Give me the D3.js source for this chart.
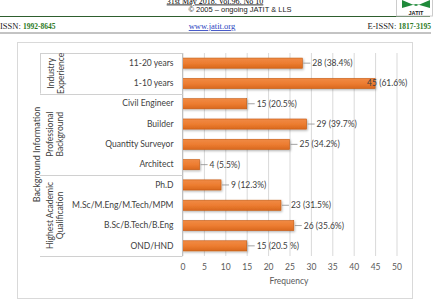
<!DOCTYPE html>
<html>
<head>
<meta charset="utf-8">
<script src="https://cdn.jsdelivr.net/npm/d3@7"></script>
<style>
  body { margin: 0; background: #fff; }
  svg { display: block; }
</style>
</head>
<body>
<script>
// categories, top to bottom
var categories = ['11-20 years', '1-10 years', 'Civil Engineer', 'Builder', 'Quantity Surveyor',
  'Architect', 'Ph.D', 'M.Sc/M.Eng/M.Tech/MPM', 'B.Sc/B.Tech/B.Eng', 'OND/HND'];
var counts = [28, 45, 15, 29, 25, 4, 9, 23, 26, 15];
var valueLabels = ['28 (38.4%)', '45 (61.6%)', '15 (20.5%)', '29 (39.7%)', '25 (34.2%)',
  '4 (5.5%)', '9 (12.3%)', '23 (31.5%)', '26 (35.6%)', '15 (20.5 %)'];
// outer category groups (two text lines each) and how many rows they span
var groupLines = [['Industry', 'Experience'], ['Professional', 'Background'], ['Highest Academic', 'Qualification']];
var groupSizes = [2, 4, 4];
var xTicks = [0, 5, 10, 15, 20, 25, 30, 35, 40, 45, 50];

var W = 441, H = 304;
var svg = d3.select('body').append('svg').attr('width', W).attr('height', H);

// ---- journal page header ----
var serif = '"Liberation Serif", "DejaVu Serif", serif';
svg.append('text').attr('x', 215).attr('y', 3.5).attr('text-anchor', 'middle')
    .style('font', '8px ' + serif).attr('text-decoration', 'underline')
    .text('31st May 2018. Vol.96. No 10');
svg.append('text').attr('x', 240).attr('y', 12).attr('text-anchor', 'middle')
    .style('font', '7.5px "Liberation Sans", Arial, sans-serif').attr('fill', '#222')
    .text('\u00A9 2005 \u2013 ongoing  JATIT & LLS');
svg.append('line').attr('x1', 0).attr('x2', 430).attr('y1', 16.5).attr('y2', 16.5)
    .attr('stroke', '#2e5e2e').attr('stroke-width', 1.2);
svg.append('line').attr('x1', 0).attr('x2', 431).attr('y1', 33).attr('y2', 33)
    .attr('stroke', '#888').attr('stroke-width', 1);

var issn = svg.append('text').attr('x', 0).attr('y', 29).style('font', '8.5px ' + serif).attr('fill', '#222');
issn.append('tspan').text('ISSN: ');
issn.append('tspan').attr('fill', '#2c7a1f').attr('font-weight', 'bold').style('font-size', '7.5px').text('1992-8645');
svg.append('text').attr('x', 212).attr('y', 29).attr('text-anchor', 'middle')
    .style('font', '8.5px ' + serif).attr('fill', '#2a3fc0').attr('text-decoration', 'underline')
    .text('www.jatit.org');
var eissn = svg.append('text').attr('x', 431).attr('y', 29).attr('text-anchor', 'end')
    .style('font', '8.5px ' + serif).attr('fill', '#222');
eissn.append('tspan').text('E-ISSN: ');
eissn.append('tspan').attr('fill', '#2c7a1f').attr('font-weight', 'bold').style('font-size', '7.5px').text('1817-3195');

// logo
var logo = svg.append('g');
logo.append('rect').attr('x', 396.5).attr('y', -1).attr('width', 36).attr('height', 17)
    .attr('fill', 'none').attr('stroke', '#ccc');
logo.append('path').attr('d', 'M402,0 L416,6 L430,0 L430,8 L416,4 L402,8 Z').attr('fill', '#1f8a3a');
logo.append('text').attr('x', 416).attr('y', 14.5).attr('text-anchor', 'middle')
    .style('font', 'bold 5.5px "Liberation Sans", Arial, sans-serif').attr('fill', '#222').text('JATIT');

// ---- chart ----
var font = 'Lato, "Open Sans", sans-serif';
svg.append('rect').attr('x', 17.5).attr('y', 42.5).attr('width', 395).attr('height', 256)
    .attr('fill', '#fff').attr('stroke', '#d9d9d9');

var plotTop = 53, plotBottom = 256;
var x = d3.scaleLinear().domain([0, 50]).range([182.5, 396.5]);
var y = d3.scaleBand().domain(categories).range([plotTop, plotBottom]).paddingInner(0.5).paddingOuter(0.25);

// gridlines
svg.append('g')
    .attr('transform', 'translate(0,' + plotBottom + ')')
    .call(d3.axisBottom(x).tickValues(xTicks).tickSize(-(plotBottom - plotTop)).tickFormat(''))
    .call(function(g) {
      g.select('.domain').remove();
      g.selectAll('line').attr('stroke', '#d9d9d9');
    });

// x tick labels
svg.append('g')
    .attr('transform', 'translate(0,' + plotBottom + ')')
    .call(d3.axisBottom(x).tickValues(xTicks).tickSize(0).tickPadding(8))
    .call(function(g) {
      g.select('.domain').remove();
      g.selectAll('text').style('font', '8.5px ' + font).attr('fill', '#595959');
    });

svg.append('text').attr('x', 289).attr('y', 284).attr('text-anchor', 'middle')
    .style('font', '8.5px ' + font).attr('fill', '#595959').text('Frequency');

// bars with a soft shadow
var defs = svg.append('defs');
var f = defs.append('filter').attr('id', 'shadow').attr('x', '-10%').attr('y', '-30%')
    .attr('width', '130%').attr('height', '180%');
f.append('feDropShadow').attr('dx', 1).attr('dy', 1.2).attr('stdDeviation', 0.8)
    .attr('flood-color', '#000').attr('flood-opacity', 0.3);
var grad = defs.append('linearGradient').attr('id', 'barfill').attr('x1', 0).attr('y1', 0).attr('x2', 0).attr('y2', 1);
grad.append('stop').attr('offset', '0%').attr('stop-color', '#f08a45');
grad.append('stop').attr('offset', '50%').attr('stop-color', '#ed7d31');
grad.append('stop').attr('offset', '100%').attr('stop-color', '#d9681e');

function countOf(d) { return counts[categories.indexOf(d)]; }

svg.append('g').selectAll('rect')
    .data(categories)
    .enter().append('rect')
    .attr('x', x(0))
    .attr('y', function(d) { return y(d); })
    .attr('width', function(d) { return x(countOf(d)) - x(0); })
    .attr('height', y.bandwidth())
    .attr('fill', 'url(#barfill)')
    .attr('stroke', '#c55a11')
    .attr('stroke-width', 0.6)
    .attr('filter', 'url(#shadow)');

// data labels with leader lines (the longest bar gets its label pulled back over the bar end)
var lab = svg.append('g').selectAll('g')
    .data(categories)
    .enter().append('g');
lab.filter(function(d) { return countOf(d) < 40; }).append('line')
    .attr('x1', function(d) { return x(countOf(d)) + 1; })
    .attr('x2', function(d) { return x(countOf(d)) + 8; })
    .attr('y1', function(d) { return y(d) + y.bandwidth() / 2; })
    .attr('y2', function(d) { return y(d) + y.bandwidth() / 2; })
    .attr('stroke', '#8c8c8c').attr('stroke-width', 0.8);
lab.append('text')
    .attr('x', function(d) { return countOf(d) < 40 ? x(countOf(d)) + 10 : x(countOf(d)) - 8; })
    .attr('y', function(d) { return y(d) + y.bandwidth() / 2; })
    .attr('dy', '0.35em')
    .style('font', '8.5px ' + font).attr('fill', '#404040')
    .text(function(d) { return valueLabels[categories.indexOf(d)]; });

// category axis
svg.append('line').attr('x1', 182.5).attr('x2', 182.5).attr('y1', plotTop).attr('y2', plotBottom)
    .attr('stroke', '#bfbfbf');
svg.append('g')
    .attr('transform', 'translate(182.5,0)')
    .call(d3.axisLeft(y).tickSize(0).tickPadding(9))
    .call(function(g) {
      g.select('.domain').remove();
      g.selectAll('text').style('font', '8.5px ' + font).attr('fill', '#404040');
    });

// group separators and group labels
var step = y.step();
var sep = svg.append('g').attr('stroke', '#d0d0d0').attr('stroke-width', 1);
sep.append('line').attr('x1', 40).attr('x2', 182.5).attr('y1', plotTop + 0.5).attr('y2', plotTop + 0.5);
sep.append('line').attr('x1', 40.5).attr('x2', 40.5).attr('y1', plotTop).attr('y2', plotTop + step * groupSizes[0]);
var acc = 0;
groupSizes.forEach(function(n, gi) {
  var y0 = plotTop + acc * step, y1 = plotTop + (acc + n) * step;
  acc += n;
  sep.append('line').attr('x1', 40).attr('x2', 182.5)
      .attr('y1', Math.round(y1) + 0.5).attr('y2', Math.round(y1) + 0.5);
  var cy = (y0 + y1) / 2;
  svg.append('text')
      .attr('transform', 'translate(' + (gi === 0 ? 51 : 49.5) + ',' + cy + ') rotate(-90)')
      .attr('text-anchor', 'middle')
      .style('font', '8.5px ' + font).attr('fill', '#404040')
      .selectAll('tspan').data(groupLines[gi]).enter().append('tspan')
      .attr('x', 0).attr('dy', function(d, i) { return i === 0 ? 0 : 10; })
      .attr('dominant-baseline', 'central')
      .text(function(d) { return d; });
});

// outer level label
svg.append('text')
    .attr('transform', 'translate(36,' + ((plotTop + plotBottom) / 2) + ') rotate(-90)')
    .attr('text-anchor', 'middle').attr('dominant-baseline', 'central')
    .style('font', '9px ' + font).attr('fill', '#404040')
    .text('Background Information');
</script>
</body>
</html>
